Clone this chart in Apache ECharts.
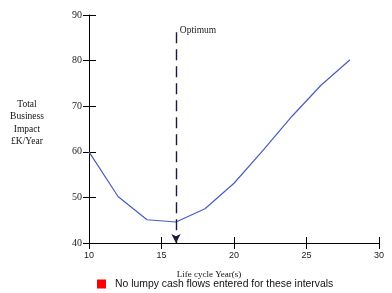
<!DOCTYPE html>
<html>
<head>
<meta charset="utf-8">
<script src="https://cdn.jsdelivr.net/npm/echarts@6/dist/echarts.min.js"></script>
<style>
  html, body { margin: 0; padding: 0; background: #fff; }
  #chart { width: 392px; height: 293px; }
</style>
</head>
<body>
<div id="chart"></div>
<script>
  // life cycle years and total business impact (£K/Year)
  var years = [10, 12, 14, 16, 18, 20, 22, 24, 26, 28];
  var impact = [60, 50.2, 45.1, 44.6, 47.5, 53.1, 60.3, 67.8, 74.6, 80.2];
  var optimumYear = 16;
  var optimumTop = 86.2;
  var legendName = 'No lumpy cash flows entered for these intervals';

  var serif = '"Liberation Serif", "DejaVu Serif", serif';
  var sans = '"Liberation Sans", Arial, sans-serif';

  var points = years.map(function (y, i) { return [y, impact[i]]; });

  var myChart = echarts.init(document.getElementById('chart'));
  var option = {
    animation: false,
    grid: { left: 89, top: 15, right: 13, bottom: 50, outerBoundsMode: 'none' },
    legend: {
      bottom: -1,
      left: 92,
      icon: 'rect',
      itemWidth: 9,
      itemHeight: 9,
      itemGap: 6,
      textStyle: { fontFamily: sans, fontSize: 10.4, color: '#111', padding: [0, 0, 0, 4] },
      data: [legendName]
    },
    xAxis: [{
      type: 'value',
      min: 10, max: 30, interval: 5,
      name: 'Life cycle Year(s)',
      nameLocation: 'middle',
      nameGap: 27,
      nameTextStyle: { fontFamily: serif, fontSize: 9, color: '#111', padding: [0, 50, 0, 0] },
      axisLine: { lineStyle: { color: '#000', width: 1 } },
      axisTick: { show: true, length: 6, lineStyle: { color: '#000' } },
      axisLabel: { fontFamily: sans, fontSize: 9, color: '#222', margin: 8 },
      splitLine: { show: false }
    }, {
      type: 'value',
      position: 'bottom',
      min: 10, max: 30, interval: 5,
      axisLine: { show: false },
      axisTick: { show: true, inside: true, length: 6, lineStyle: { color: '#000' } },
      axisLabel: { show: false },
      splitLine: { show: false }
    }],
    yAxis: [{
      type: 'value',
      min: 40, max: 90, interval: 10,
      name: 'Total\nBusiness\nImpact\n£K/Year\n ',
      nameLocation: 'middle',
      nameRotate: 0,
      nameGap: 62,
      nameTextStyle: { fontFamily: serif, fontSize: 9.5, color: '#111', lineHeight: 12.5, align: 'center' },
      axisLine: { show: true, lineStyle: { color: '#000', width: 1 } },
      axisTick: { show: true, length: 6, lineStyle: { color: '#000' } },
      axisLabel: { fontFamily: serif, fontSize: 10, color: '#222', margin: 7 },
      splitLine: { show: false }
    }, {
      type: 'value',
      position: 'left',
      min: 40, max: 90, interval: 10,
      axisLine: { show: false },
      axisTick: { show: true, inside: true, length: 7, lineStyle: { color: '#000' } },
      axisLabel: { show: false },
      splitLine: { show: false }
    }],
    series: [{
      type: 'line',
      data: points,
      symbol: 'none',
      lineStyle: { color: '#4a5cc0', width: 1.2 },
      markLine: {
        silent: true,
        symbolSize: [7, 9],
        lineStyle: { color: '#1a1a40', width: 1.4, type: [11, 6] },
        label: {
          show: true,
          position: 'start',
          formatter: 'Optimum',
          fontFamily: serif,
          fontSize: 9.5,
          color: '#222',
          offset: [22, 8]
        },
        data: [[
          { coord: [optimumYear, optimumTop], symbol: 'none' },
          { coord: [optimumYear, 40], symbol: 'arrow' }
        ]]
      }
    }, {
      type: 'line',
      name: legendName,
      data: [],
      itemStyle: { color: '#ff0000' }
    }]
  };
  myChart.setOption(option);
</script>
</body>
</html>
